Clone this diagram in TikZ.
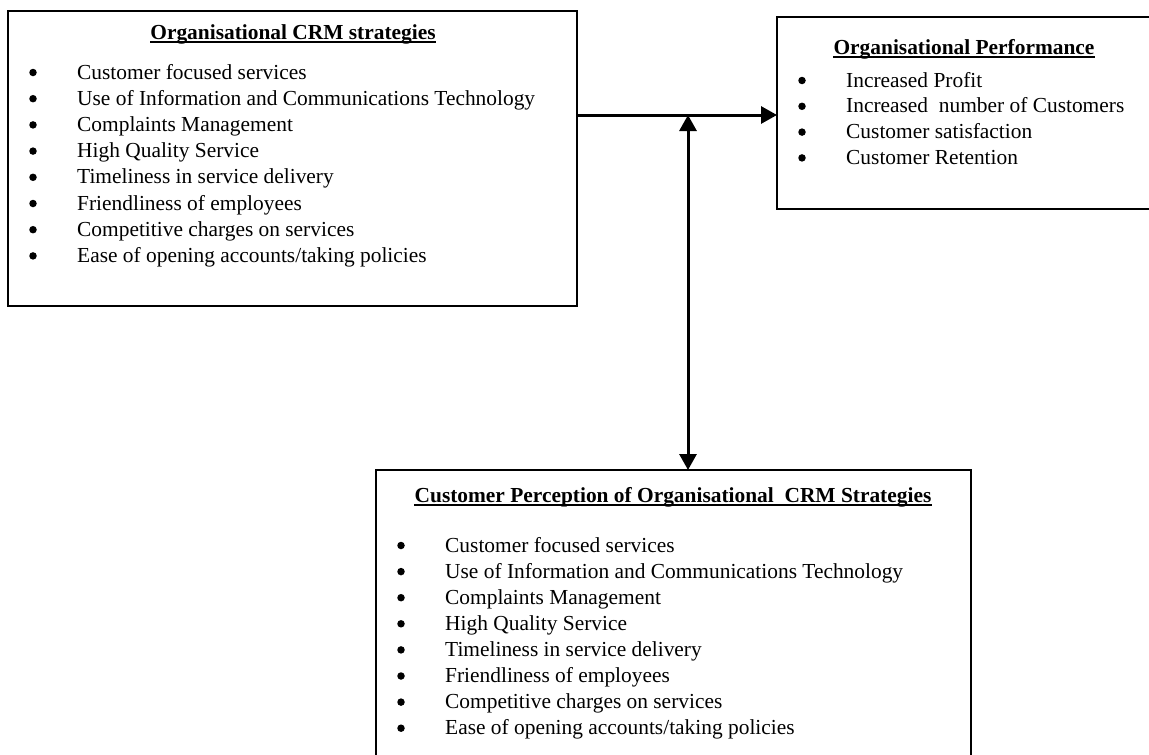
\documentclass[tikz,border=0pt]{standalone}
\usepackage{fontspec}
\setmainfont{Liberation Serif}
\usetikzlibrary{arrows.meta}
\begin{document}
\begin{tikzpicture}[x=1pt,y=-1pt,
  box/.style={draw=black,line width=1.8pt,inner sep=0pt,outer sep=0pt,anchor=north west},
  ttl/.style={font=\fontsize{21.4}{26}\selectfont\bfseries,inner sep=0pt,anchor=base},
  itm/.style={font=\fontsize{21.4}{26}\selectfont,inner sep=0pt,anchor=base west},
  bul/.style={circle,fill=black,inner sep=0pt,minimum size=7.5pt},
  uline/.style={line width=1.2pt},
  tip/.tip={Triangle[length=16pt,width=17pt]},
  conn/.style={line width=3pt,-tip},
  dconn/.style={line width=3pt,tip-tip},
]
\useasboundingbox (0,0) rectangle (1149,755);
\clip (0,0) rectangle (1149,755);
\fill[white] (0,0) rectangle (1149,755);

% boxes
\node[box,minimum width=569pt,minimum height=295pt] (L) at (8,11) {};
\node[box,minimum width=374pt,minimum height=192pt] (R) at (777,17) {};
\node[box,minimum width=595pt,minimum height=320pt] (B) at (376,470) {};

% left box
\node[ttl] (Lh) at (293,39) {Organisational CRM strategies};
\draw[uline] ([yshift=-3pt]Lh.base west) -- ([yshift=-3pt]Lh.base east);
\foreach \t [count=\i from 0] in {Customer focused services,
  Use of Information and Communications Technology,
  Complaints Management,
  High Quality Service,
  Timeliness in service delivery,
  Friendliness of employees,
  Competitive charges on services,
  Ease of opening accounts/taking policies}{
  \node[bul] (Lb\i) at (33,72.5+26.2*\i) {};
  \node[itm] (Lt\i) at (77,79+26.2*\i) {\t};
}

% right box
\node[ttl] (Rh) at (964,54) {Organisational Performance};
\draw[uline] ([yshift=-3pt]Rh.base west) -- ([yshift=-3pt]Rh.base east);
\foreach \t [count=\i from 0] in {Increased Profit,
  Increased\ \ number of Customers,
  Customer satisfaction,
  Customer Retention}{
  \node[bul] (Rb\i) at (802,80.5+25.8*\i) {};
  \node[itm] (Rt\i) at (846,87+25.8*\i) {\t};
}

% bottom box
\node[ttl] (Bh) at (673,502) {Customer Perception of Organisational\ \ CRM Strategies};
\draw[uline] ([yshift=-3pt]Bh.base west) -- ([yshift=-3pt]Bh.base east);
\foreach \t [count=\i from 0] in {Customer focused services,
  Use of Information and Communications Technology,
  Complaints Management,
  High Quality Service,
  Timeliness in service delivery,
  Friendliness of employees,
  Competitive charges on services,
  Ease of opening accounts/taking policies}{
  \node[bul] (Bb\i) at (401,545.5+26.1*\i) {};
  \node[itm] (Bt\i) at (445,552+26.1*\i) {\t};
}

% connectors
\coordinate (hy) at (0,115);
\coordinate (j) at (688,115);
\draw[conn] (L.east |- hy) -- (R.west |- hy);
\draw[dconn] (j |- B.north) -- (j);
\end{tikzpicture}
\end{document}
